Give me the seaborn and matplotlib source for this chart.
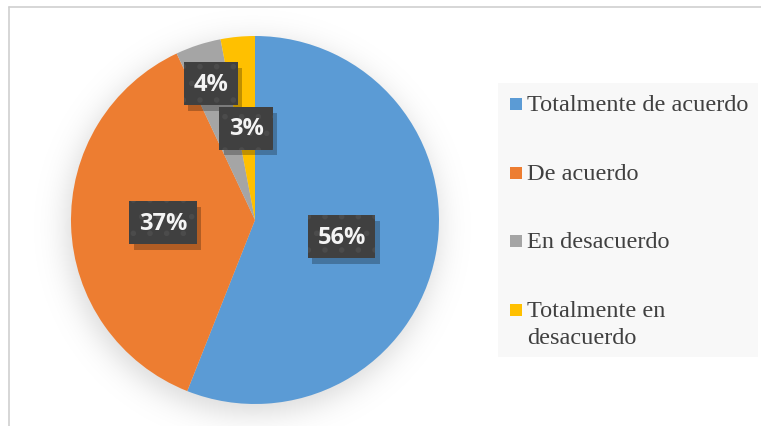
import numpy as np
import matplotlib
matplotlib.use("Agg")
import matplotlib.pyplot as plt
import matplotlib.patheffects as pe
from matplotlib.patches import Rectangle
from matplotlib.lines import Line2D
import seaborn as sns

# Survey answers and their shares (%)
categories = ["Totalmente de acuerdo", "De acuerdo", "En desacuerdo",
              "Totalmente en\ndesacuerdo"]
percentages = [56, 37, 4, 3]
colors = ["#5B9BD5", "#ED7D31", "#A5A5A5", "#FFC000"]

sns.set_theme(style="white")
plt.rcParams["hatch.linewidth"] = 1.6

W, H = 761, 427
fig = plt.figure(figsize=(W / 100, H / 100), dpi=100)
fig.patch.set_facecolor("white")


def fx(px):
    return px / W


def fy(py):
    return 1 - py / H


# soft drop shadow under the pie
yy, xx = np.mgrid[0:H, 0:W]
dist = np.hypot(xx - 252, yy - 228) - 186
shadow = np.zeros((H, W, 4))
shadow[..., 3] = 0.15 / (1 + np.exp(dist / 9))
fig.figimage(shadow, 0, 0, origin="upper", zorder=-5)

# outer frame
fig.add_artist(Line2D([fx(9), fx(9)], [0, fy(8)], color="#cfcfcf", lw=1.2,
                      transform=fig.transFigure))
fig.add_artist(Line2D([fx(9), 1], [fy(8), fy(8)], color="#cfcfcf", lw=1.2,
                      transform=fig.transFigure))

# pie
ax = fig.add_axes([fx(71), fy(405), 368 / W, 368 / H])
ax.set_zorder(3)
ax.patch.set_visible(False)
wedges, _ = ax.pie(percentages, colors=colors, startangle=90,
                   counterclock=False, radius=1,
                   wedgeprops=dict(linewidth=0))
ax.set_xlim(-1, 1)
ax.set_ylim(-1, 1)
ax.set_aspect("equal")
ax.axis("off")

# percentage labels in dark, finely dotted boxes with a small shadow
label_r = [0.48, 0.50, 0.78, 0.50]
for w, p, r in zip(wedges, percentages, label_r):
    ang = np.deg2rad((w.theta1 + w.theta2) / 2)
    t = ax.text(r * np.cos(ang), r * np.sin(ang), f"{p}%",
                ha="center", va="center", fontsize=17, fontweight="bold",
                family="Open Sans", color="#f4f4f4",
                bbox=dict(boxstyle="square,pad=0.4", fc="#404040",
                          ec="none", lw=0))
    t.get_bbox_patch().set_path_effects([
        pe.SimplePatchShadow(offset=(3, -4), shadow_rgbFace="black", alpha=0.25),
        pe.PathPatchEffect(facecolor="#404040", edgecolor="#4b4b4b",
                           hatch=".", linewidth=0)])

# legend panel
fig.add_artist(Rectangle((fx(498), fy(358)), 260 / W, 274 / H,
                         fc="#f8f8f8", ec="none", transform=fig.transFigure))
legend_y = [105, 174, 242, 311]
for name, col, yc in zip(categories, colors, legend_y):
    fig.add_artist(Rectangle((fx(510), fy(yc + 6)), 12 / W, 12 / H,
                             fc=col, ec="none", transform=fig.transFigure))
    fig.text(fx(527), fy(yc - 10), name, ha="left", va="top",
             family="Liberation Serif", fontsize=17.5, color="#404040",
             linespacing=1.35)

fig.savefig("out.png", dpi=100)
